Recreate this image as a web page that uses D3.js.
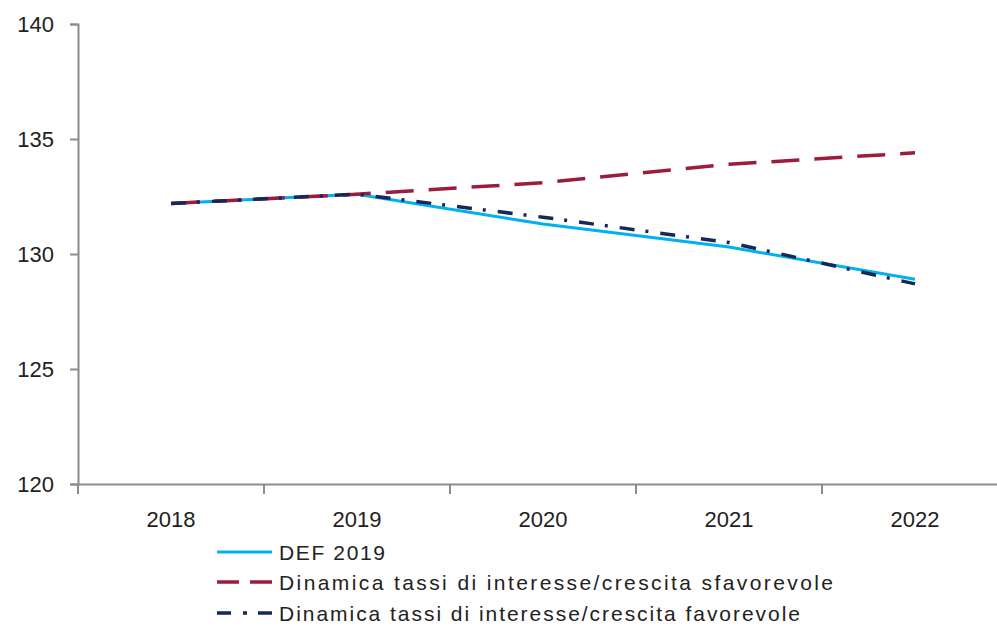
<!DOCTYPE html>
<html>
<head>
<meta charset="utf-8">
<script src="https://cdn.jsdelivr.net/npm/d3@7"></script>
<style>
  body { margin: 0; background: #fff; }
  svg { font-family: "Liberation Sans", Arial, sans-serif; }
</style>
</head>
<body>
<svg id="chart" width="997" height="630"></svg>
<script>
//  data
const years = ["2018", "2019", "2020", "2021", "2022"];
const def2019 = [132.2, 132.6, 131.3, 130.3, 128.9];
const sfavorevole = [132.2, 132.6, 133.1, 133.9, 134.4];
const favorevole = [132.2, 132.6, 131.6, 130.5, 128.7];
const yTicks = [120, 125, 130, 135, 140];

const series = [
  {name: "DEF 2019", values: def2019, color: "#00b0f0", dash: null, width: 3, legendDash: null, textLen: 106},
  {name: "Dinamica tassi di interesse/crescita sfavorevole", values: sfavorevole, color: "#9c1c3c", dash: "28,15", width: 3.5, legendDash: "22,11,22", textLen: 554},
  {name: "Dinamica tassi di interesse/crescita favorevole", values: favorevole, color: "#16285a", dash: "15,11,3,12", width: 3.5, legendDash: "14,12,4,11,14", textLen: 521}
];

//  draw
function draw_chart() {
  const margin = ({top: 24, left: 78, bottom: 484});
  const svg = d3.select("#chart");
  svg.selectAll('*').remove();

  const x = d3.scaleBand().domain(years).range([margin.left, margin.left + 5 * 186]);
  const y = d3.scaleLinear().domain([120, 140]).range([margin.bottom, margin.top]);

  const axisColor = "#8c8c8c";

  // y axis
  const yAxis = svg.append("g")
    .attr("transform", `translate(${margin.left},0)`)
    .call(d3.axisLeft(y).tickValues(yTicks).tickSize(8).tickPadding(16));
  yAxis.select(".domain").attr("stroke", axisColor).attr("stroke-width", 2);
  yAxis.selectAll(".tick line").attr("stroke", axisColor).attr("stroke-width", 2);
  yAxis.selectAll("text").attr("font-size", 22).attr("fill", "#222");

  // x axis
  const xAxis = svg.append("g")
    .attr("transform", `translate(0,${margin.bottom})`)
    .call(d3.axisBottom(x).tickSize(0).tickPadding(27));
  xAxis.select(".domain").attr("stroke", axisColor).attr("stroke-width", 2);
  xAxis.selectAll("text").attr("font-size", 22).attr("fill", "#222");
  xAxis.selectAll(".bound")
    .data(years)
    .join("line")
      .attr("x1", d => x(d)).attr("x2", d => x(d))
      .attr("y1", 0).attr("y2", 10)
      .attr("stroke", axisColor).attr("stroke-width", 2);

  const line = d3.line()
    .x((d, i) => x(years[i]) + x.bandwidth() / 2)
    .y(d => y(d));

  svg.selectAll(".series")
    .data(series)
    .join("path")
      .attr("fill", "none")
      .attr("stroke", d => d.color)
      .attr("stroke-width", d => d.width)
      .attr("stroke-dasharray", d => d.dash)
      .attr("d", d => line(d.values));

  // legend
  const legend = svg.append("g").attr("transform", "translate(217,552)");
  const rows = legend.selectAll("g")
    .data(series)
    .join("g")
      .attr("transform", (d, i) => `translate(0,${[0, 30, 61][i]})`);
  rows.append("line")
    .attr("x1", 0).attr("x2", 55)
    .attr("stroke", d => d.color)
    .attr("stroke-width", d => d.width)
    .attr("stroke-dasharray", d => d.legendDash ? d.legendDash + ",100" : null);
  rows.append("text")
    .attr("x", 62).attr("y", 8)
    .attr("font-size", 21)
    .attr("fill", "#222")
    .attr("textLength", d => d.textLen)
    .attr("lengthAdjust", "spacing")
    .text(d => d.name);
}

draw_chart();
</script>
</body>
</html>
